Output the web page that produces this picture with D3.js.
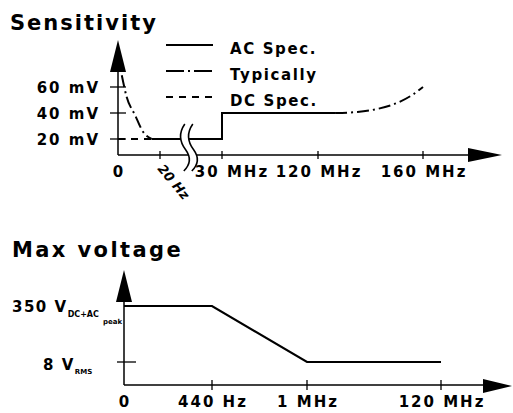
<!DOCTYPE html>
<html><head><meta charset="utf-8">
<script src="https://cdn.jsdelivr.net/npm/d3@7"></script>
<style>
html,body{margin:0;padding:0;background:#fff;}
svg{display:block;}
text{font-family:"DejaVu Sans",sans-serif;font-weight:bold;fill:#000;}
</style></head><body>
<svg id="c" width="513" height="413"></svg>
<script>
// ---- Sensitivity ----
const sensTickHz = [0, 20, 30e6, 120e6, 160e6];
const sensTickLabels = ["0", "20 Hz", "30 MHz", "120 MHz", "160 MHz"];
const sensLevelsMv = [20, 40, 60];
const sensLevelLabels = ["20 mV", "40 mV", "60 mV"];
const acSpec = [[16, 20], [30e6, 20], [30e6, 40], [126.5e6, 40]];
const dcSpec = [[0, 20], [16, 20]];
const typicalLow = [[1.8, 69], [4.1, 52.5], [8.1, 38.5], [11.9, 25.6], [16, 20]];
const typicalHigh = [[126.5e6, 40], [135e6, 40.8], [143e6, 43.3], [151e6, 48.5], [156e6, 54], [160e6, 60]];
const legendItems = ["AC Spec.", "Typically", "DC Spec."];

// ---- Max voltage ----
const maxTickHz = [0, 440, 1e6, 120e6];
const maxTickLabels = ["0", "440 Hz", "1 MHz", "120 MHz"];
const maxLevelsV = [8, 350];
const maxVoltage = [[0, 350], [440, 350], [1e6, 8], [120e6, 8]];

const svg = d3.select("#c");
const ink = "#000";

// dash styles per series
const dashes = { "AC Spec.": null, "Typically": "12,4,2,4", "DC Spec.": "7,6" };

function arrowUp(g, x, tip, base, half) {
  g.append("path").attr("d", `M${x},${tip}L${x - half},${base}L${x + half},${base}Z`).attr("fill", ink);
}
function arrowRight(g, y, tip, base, half) {
  g.append("path").attr("d", `M${tip},${y}L${base},${y - half}L${base},${y + half}Z`).attr("fill", ink);
}

// ===== sensitivity panel =====
const sensG = svg.append("g");
sensG.append("text").attr("x", 10).attr("y", 30).attr("font-size", 21).attr("letter-spacing", 2).text("Sensitivity");

// schematic frequency axis: piecewise between labelled frequencies
const xS = d3.scaleLinear().domain(sensTickHz).range([118, 160, 222, 318, 423]);
const yS = d3.scaleLinear().domain([20, 60]).range([139, 87]);
const axisY = 155, axisX = xS(0);

// axes
sensG.append("line").attr("x1", axisX).attr("x2", axisX).attr("y1", axisY).attr("y2", 70)
  .attr("stroke", ink).attr("stroke-width", 1.5);
arrowUp(sensG, axisX, 40, 72, 8);
sensG.append("line").attr("x1", axisX).attr("x2", 470).attr("y1", axisY).attr("y2", axisY)
  .attr("stroke", ink).attr("stroke-width", 1.5);
arrowRight(sensG, axisY, 502, 468, 7);

// y ticks + labels
sensLevelsMv.forEach((v, i) => {
  sensG.append("line").attr("x1", axisX - 8).attr("x2", axisX + 8).attr("y1", yS(v)).attr("y2", yS(v))
    .attr("stroke", ink).attr("stroke-width", 1.3);
  sensG.append("text").attr("x", 100).attr("y", yS(v) + 6).attr("text-anchor", "end")
    .attr("font-size", 15).attr("letter-spacing", 2).text(sensLevelLabels[i]);
});

// x ticks + labels
sensTickHz.forEach((f, i) => {
  const x = xS(f);
  if (f > 0) {
    sensG.append("line").attr("x1", x).attr("x2", x).attr("y1", axisY - 4).attr("y2", axisY + 4)
      .attr("stroke", ink).attr("stroke-width", 1.3);
  }
  if (sensTickLabels[i] === "20 Hz") {
    sensG.append("text").attr("transform", `translate(${x - 3},${axisY + 14}) rotate(50)`)
      .attr("font-size", 13).attr("font-weight", "normal").attr("font-style", "italic")
      .attr("font-family", "Liberation Sans, sans-serif").text(sensTickLabels[i]);
  } else {
    const dx = sensTickLabels[i] === "30 MHz" ? 10 : 1;
    sensG.append("text").attr("x", x + dx).attr("y", 177).attr("text-anchor", "middle")
      .attr("font-size", 15).attr("letter-spacing", 2).text(sensTickLabels[i]);
  }
});

// curves
const lineS = d3.line().x(d => xS(d[0])).y(d => yS(d[1]));
const smoothS = d3.line().x(d => xS(d[0])).y(d => yS(d[1])).curve(d3.curveMonotoneX);
sensG.append("path").attr("d", lineS(acSpec)).attr("fill", "none").attr("stroke", ink).attr("stroke-width", 2);
sensG.append("path").attr("d", lineS(dcSpec)).attr("fill", "none").attr("stroke", ink).attr("stroke-width", 2)
  .attr("stroke-dasharray", dashes["DC Spec."]);
[typicalLow, typicalHigh].forEach(seg => {
  sensG.append("path").attr("d", smoothS(seg)).attr("fill", "none").attr("stroke", ink).attr("stroke-width", 2)
    .attr("stroke-dasharray", dashes["Typically"]);
});

// axis break between 20 Hz and 30 MHz
const bx = xS(20) + 0.4 * (xS(30e6) - xS(20));
const c1 = `M${bx},124Q${bx - 9},137 ${bx + 1},150Q${bx + 9},161 ${bx - 1},171`;
const c2 = `M${bx + 8},124Q${bx - 1},137 ${bx + 9},150Q${bx + 17},161 ${bx + 7},171`;
sensG.append("path")
  .attr("d", `${c1}L${bx + 7},171Q${bx + 17},161 ${bx + 9},150Q${bx - 1},137 ${bx + 8},124Z`)
  .attr("fill", "#fff");
[c1, c2].forEach(d => sensG.append("path").attr("d", d).attr("fill", "none").attr("stroke", ink).attr("stroke-width", 1.6));

// legend
legendItems.forEach((name, i) => {
  const y = 45 + i * 26;
  sensG.append("line").attr("x1", 166).attr("x2", 213).attr("y1", y).attr("y2", y)
    .attr("stroke", ink).attr("stroke-width", 2).attr("stroke-dasharray", name === "Typically" ? "18,4,2,4" : dashes[name]);
  sensG.append("text").attr("x", 230).attr("y", y + 8.5).attr("font-size", 15).attr("letter-spacing", 1.6).text(name);
});

// ===== max voltage panel =====
const volG = svg.append("g");
volG.append("text").attr("x", 12).attr("y", 257).attr("font-size", 21).attr("letter-spacing", 2.4).text("Max voltage");

const xM = d3.scaleLinear().domain(maxTickHz).range([124, 212, 307, 441]);
const yM = d3.scaleLinear().domain(maxLevelsV).range([362, 306]);
const axY2 = 385, axX2 = xM(0);

volG.append("line").attr("x1", axX2).attr("x2", axX2).attr("y1", axY2).attr("y2", 300)
  .attr("stroke", ink).attr("stroke-width", 1.5);
arrowUp(volG, axX2, 270, 302, 8);
volG.append("line").attr("x1", axX2).attr("x2", 485).attr("y1", axY2).attr("y2", axY2)
  .attr("stroke", ink).attr("stroke-width", 1.5);
arrowRight(volG, axY2 + 1, 512, 483, 7);

// 8 V tick
volG.append("line").attr("x1", axX2 - 7).attr("x2", axX2 + 12).attr("y1", yM(8)).attr("y2", yM(8))
  .attr("stroke", ink).attr("stroke-width", 1.3);

// level labels with subscripts
const t350 = volG.append("text").attr("x", 12).attr("y", yM(350) + 6).attr("font-size", 15).attr("letter-spacing", 1.5);
t350.append("tspan").text("350 V");
t350.append("tspan").attr("font-size", 8).attr("letter-spacing", 0).attr("dx", 0).attr("dy", 5).text("DC+AC");
t350.append("tspan").attr("font-size", 7).attr("letter-spacing", 0).attr("dx", 4).attr("dy", 7).text("peak");

const t8 = volG.append("text").attr("x", 43).attr("y", yM(8) + 8).attr("font-size", 15).attr("letter-spacing", 1.5);
t8.append("tspan").text("8 V");
t8.append("tspan").attr("font-size", 7).attr("letter-spacing", 0).attr("dx", 0).attr("dy", 4).text("RMS");

// x ticks + labels
maxTickHz.forEach((f, i) => {
  const x = xM(f);
  if (f > 0) {
    volG.append("line").attr("x1", x).attr("x2", x).attr("y1", axY2 - 5).attr("y2", axY2 + 5)
      .attr("stroke", ink).attr("stroke-width", 1.3);
  }
  volG.append("text").attr("x", x + 1).attr("y", 407).attr("text-anchor", "middle")
    .attr("font-size", 15).attr("letter-spacing", 2).text(maxTickLabels[i]);
});

const lineM = d3.line().x(d => xM(d[0])).y(d => yM(d[1]));
volG.append("path").attr("d", lineM(maxVoltage)).attr("fill", "none").attr("stroke", ink).attr("stroke-width", 2.2);
</script>
</body></html>
